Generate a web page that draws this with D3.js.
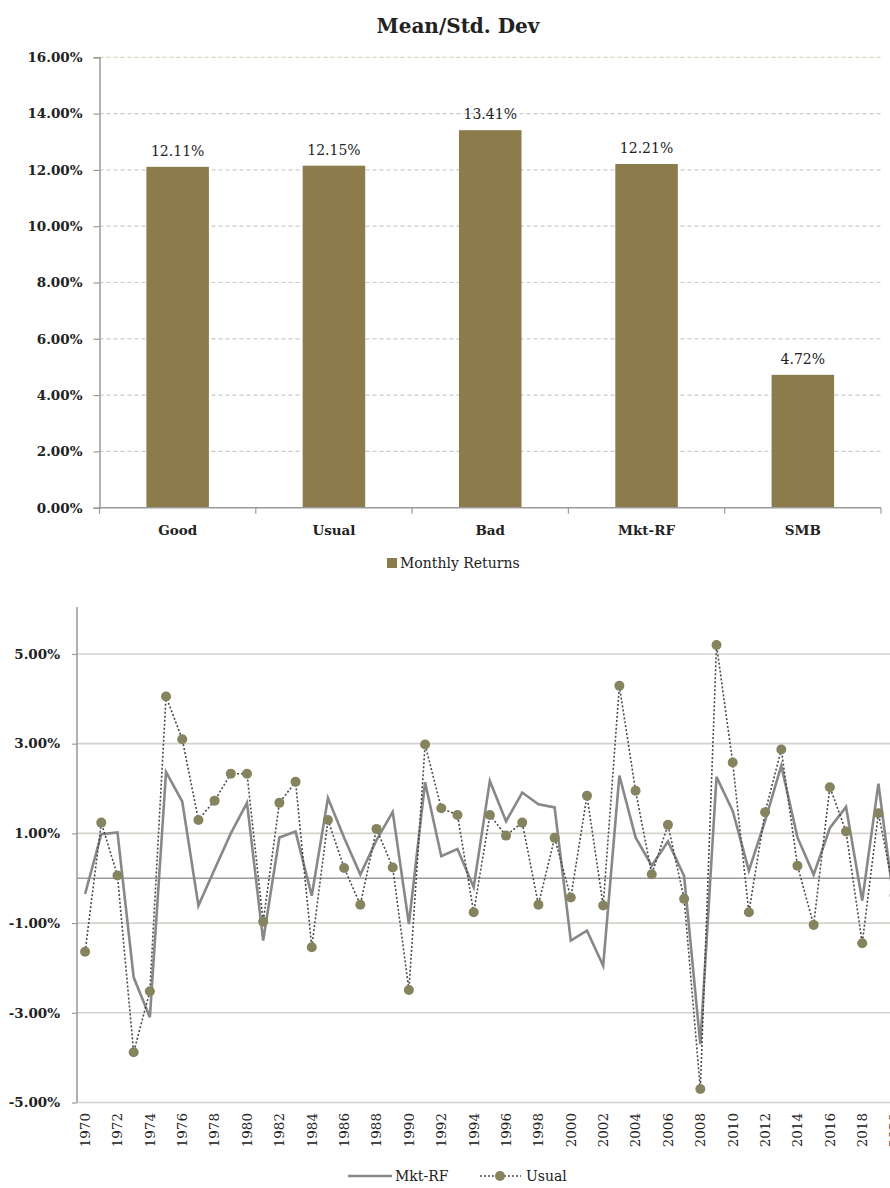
<!DOCTYPE html>
<html>
<head>
<meta charset="utf-8">
<script src="https://cdn.jsdelivr.net/npm/d3@7/dist/d3.min.js"></script>
<style>
  html, body { margin: 0; padding: 0; background: #fff; }
  svg { display: block; }
  text { font-family: "DejaVu Serif", "Liberation Serif", serif; fill: #222; }
</style>
</head>
<body>
<svg id="chart" width="890" height="1188"></svg>
<script>
// ---- Bar chart data: mean / std. dev of monthly returns (%)
const barCategories = ["Good", "Usual", "Bad", "Mkt-RF", "SMB"];
const barValues = [12.11, 12.15, 13.41, 12.21, 4.72];
const barTicks = [0, 2, 4, 6, 8, 10, 12, 14, 16];

// ---- Line chart data: yearly values (%), 1970-2020
const years = d3.range(1970, 2021);
const mktRF = [
  -0.35, 0.98, 1.02, -2.21, -3.10, 2.37, 1.71, -0.61, 0.20, 1.00,
   1.68, -1.39, 0.91, 1.04, -0.39, 1.79, 0.90, 0.08, 0.85, 1.48,
  -1.02, 2.14, 0.49, 0.65, -0.20, 2.17, 1.27, 1.91, 1.65, 1.58,
  -1.39, -1.17, -1.95, 2.29, 0.91, 0.28, 0.82, 0.05, -3.70, 2.26,
   1.50, 0.17, 1.28, 2.51, 0.91, 0.08, 1.12, 1.59, -0.50, 2.11,
  -0.65
];
const usual = [
  -1.64, 1.24, 0.06, -3.88, -2.52, 4.05, 3.10, 1.30, 1.73, 2.33,
   2.33, -0.97, 1.68, 2.15, -1.54, 1.30, 0.23, -0.59, 1.10, 0.24,
  -2.49, 2.98, 1.56, 1.41, -0.76, 1.41, 0.95, 1.24, -0.59, 0.90,
  -0.43, 1.84, -0.61, 4.29, 1.95, 0.09, 1.19, -0.46, -4.70, 5.20,
   2.58, -0.76, 1.47, 2.87, 0.28, -1.04, 2.03, 1.04, -1.45, 1.45,
  -0.38
];
const lineTicks = [-5, -3, -1, 1, 3, 5];
const yearLabels = years.filter(y => (y - 1970) % 2 === 0);

const barColor = "#8c7c4b";
const dotColor = "#86835f";
const svg = d3.select("#chart");

// percent labels with a plain hyphen for negatives
const pct = d => d3.format(".2f")(d).replace("\u2212", "-") + "%";

// ================= Bar chart =================
svg.append("text")
  .attr("x", 458).attr("y", 33)
  .attr("text-anchor", "middle")
  .style("font-size", "20px").style("font-weight", "bold")
  .text("Mean/Std. Dev");

const bx = d3.scaleBand().domain(barCategories).range([99.5, 881])
  .paddingInner(0.6).paddingOuter(0.3);
const by = d3.scaleLinear().domain([0, 16]).range([507.7, 57.3]);

// dashed gridlines
svg.append("g").selectAll("line").data(barTicks.filter(t => t > 0)).join("line")
  .attr("x1", 99.5).attr("x2", 881)
  .attr("y1", d => by(d)).attr("y2", d => by(d))
  .attr("stroke", d => d === 16 ? "#d9d5bd" : "#c9c9c9")
  .attr("stroke-width", 1.2)
  .attr("stroke-dasharray", "4,3");

// y axis
const byAxis = svg.append("g").attr("transform", "translate(99.5,0)")
  .call(d3.axisLeft(by).tickValues(barTicks).tickSize(6).tickPadding(11)
    .tickFormat(pct));
byAxis.select(".domain").attr("stroke", "#9a9a9a").attr("stroke-width", 1.5);
byAxis.selectAll(".tick line").attr("stroke", "#9a9a9a").attr("stroke-width", 1.2);
byAxis.selectAll(".tick text")
  .style("font-family", "'DejaVu Serif', serif")
  .style("font-size", "13.5px").style("font-weight", "bold").attr("fill", "#222");

// bars
svg.append("g").selectAll("rect").data(barCategories).join("rect")
  .attr("x", d => bx(d))
  .attr("width", bx.bandwidth())
  .attr("y", (d, i) => by(barValues[i]))
  .attr("height", (d, i) => by(0) - by(barValues[i]))
  .attr("fill", barColor);

// value labels
svg.append("g").selectAll("text").data(barCategories).join("text")
  .attr("x", d => bx(d) + bx.bandwidth() / 2)
  .attr("y", (d, i) => by(barValues[i]) - 11)
  .attr("text-anchor", "middle")
  .style("font-size", "14px").attr("fill", "#333")
  .text((d, i) => pct(barValues[i]));

// x axis with ticks at category boundaries
const bxAxisY = by(0);
svg.append("line")
  .attr("x1", 99.5).attr("x2", 881).attr("y1", bxAxisY).attr("y2", bxAxisY)
  .attr("stroke", "#9a9a9a").attr("stroke-width", 1.5);
const bounds = d3.range(barCategories.length + 1)
  .map(i => bx.range()[0] + i * bx.step());
svg.append("g").selectAll("line").data(bounds).join("line")
  .attr("x1", d => d).attr("x2", d => d)
  .attr("y1", bxAxisY).attr("y2", bxAxisY + 6)
  .attr("stroke", "#9a9a9a").attr("stroke-width", 1.2);
svg.append("g").selectAll("text").data(barCategories).join("text")
  .attr("x", d => bx(d) + bx.bandwidth() / 2)
  .attr("y", 535)
  .attr("text-anchor", "middle")
  .style("font-size", "13.5px").style("font-weight", "bold")
  .text(d => d);

// legend
const barLegend = svg.append("g").attr("transform", "translate(387,558)");
barLegend.append("rect").attr("width", 10).attr("height", 10).attr("fill", barColor);
barLegend.append("text").attr("x", 13).attr("y", 10)
  .style("font-size", "14px").text("Monthly Returns");

// ================= Line chart =================
const lx = d3.scalePoint().domain(years).range([77, 902.7]).padding(0.5);
const ly = d3.scaleLinear().domain([-5, 6]).range([1102.5, 609.1]);

// horizontal gridlines
svg.append("g").selectAll("line").data(lineTicks).join("line")
  .attr("x1", 77).attr("x2", 890)
  .attr("y1", d => ly(d)).attr("y2", d => ly(d))
  .attr("stroke", "#d3d3cc").attr("stroke-width", 1.6);

// zero line
svg.append("line")
  .attr("x1", 77).attr("x2", 890).attr("y1", ly(0)).attr("y2", ly(0))
  .attr("stroke", "#9c9c9c").attr("stroke-width", 1.6);

// y axis
const lyAxis = svg.append("g").attr("transform", "translate(77,0)")
  .call(d3.axisLeft(ly).tickValues(lineTicks).tickSize(5).tickPadding(12)
    .tickFormat(pct));
lyAxis.select(".domain").attr("stroke", "#9c9c9c").attr("stroke-width", 1.6)
  .attr("d", `M0,${ly(6) - 2}V${ly(-5)}`);
lyAxis.selectAll(".tick line").attr("stroke", "#9c9c9c").attr("stroke-width", 1.2);
lyAxis.selectAll(".tick text")
  .style("font-family", "'DejaVu Serif', serif")
  .style("font-size", "13.5px").style("font-weight", "bold").attr("fill", "#222");

// year labels, rotated
svg.append("g").selectAll("text").data(yearLabels).join("text")
  .attr("transform", d => `translate(${lx(d)},1113) rotate(-90)`)
  .attr("text-anchor", "end")
  .attr("dy", "0.36em")
  .style("font-size", "13.5px")
  .text(d => d);

// Mkt-RF solid line
const lineGen = d3.line().x((d, i) => lx(years[i])).y(d => ly(d));
svg.append("path").datum(mktRF)
  .attr("d", lineGen)
  .attr("fill", "none").attr("stroke", "#888888")
  .attr("stroke-width", 2.6).attr("stroke-linejoin", "miter");

// Usual dotted line with markers
svg.append("path").datum(usual)
  .attr("d", lineGen)
  .attr("fill", "none").attr("stroke", "#4a4a4a")
  .attr("stroke-width", 1.6).attr("stroke-dasharray", "2,2");
svg.append("g").selectAll("circle").data(usual).join("circle")
  .attr("cx", (d, i) => lx(years[i]))
  .attr("cy", d => ly(d))
  .attr("r", 5)
  .attr("fill", dotColor);

// legend
const lineLegend = svg.append("g").attr("transform", "translate(0,1176)");
lineLegend.append("line").attr("x1", 348).attr("x2", 392).attr("y1", 0).attr("y2", 0)
  .attr("stroke", "#888888").attr("stroke-width", 2.6);
lineLegend.append("text").attr("x", 395).attr("y", 5)
  .style("font-size", "14px").text("Mkt-RF");
lineLegend.append("line").attr("x1", 480).attr("x2", 521).attr("y1", 0).attr("y2", 0)
  .attr("stroke", "#4a4a4a").attr("stroke-width", 1.6).attr("stroke-dasharray", "2,2");
lineLegend.append("circle").attr("cx", 500).attr("cy", 0).attr("r", 5).attr("fill", dotColor);
lineLegend.append("text").attr("x", 526).attr("y", 5)
  .style("font-size", "14px").text("Usual");
</script>
</body>
</html>
